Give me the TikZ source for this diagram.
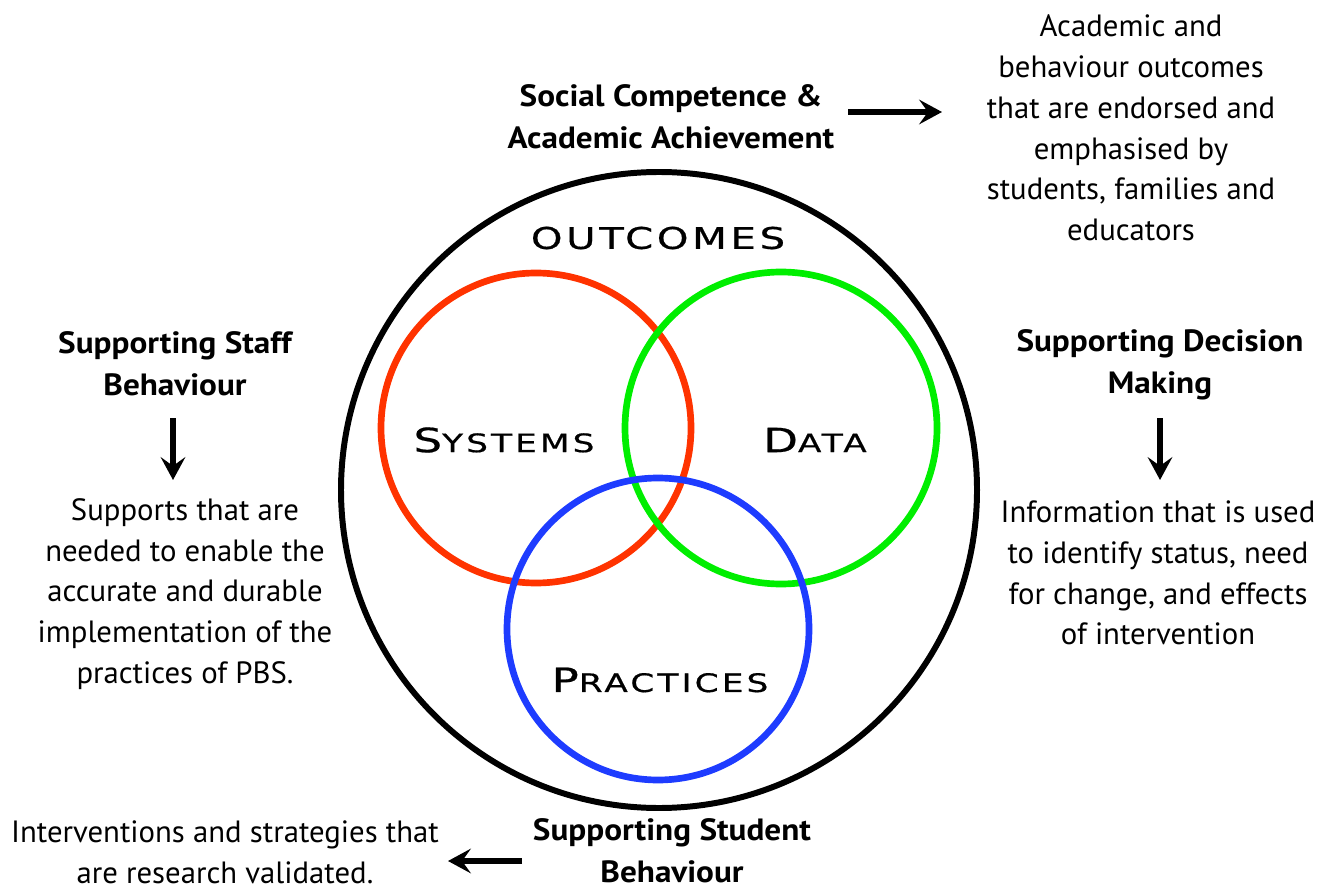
\documentclass[tikz,border=0pt]{standalone}
\usepackage{fontspec}
\setmainfont{PT Sans}
\newfontfamily\headfont[FakeStretch=1.08]{PT Sans}
\newfontfamily\capsfont[FakeStretch=1.35,LetterSpace=12,FakeBold=0.6]{DejaVu Sans}
\usetikzlibrary{arrows.meta}
\definecolor{sysred}{RGB}{255,51,0}
\definecolor{datagreen}{RGB}{0,238,0}
\definecolor{pracblue}{RGB}{30,60,255}
\newcommand{\smcap}[2]{{\fontsize{19}{19}\selectfont #1}{\fontsize{14.5}{14.5}\selectfont #2}}

\begin{document}
\begin{tikzpicture}[x=0.02cm,y=-0.02cm,
    body/.style={align=center,font=\fontsize{17.5}{23.2}\selectfont,inner sep=0pt},
    head/.style={align=center,font=\headfont\bfseries\fontsize{17.5}{23.8}\selectfont,inner sep=0pt},
    label/.style={font=\capsfont,inner sep=0pt},
    ring/.style={line width=3.8pt},
    arr/.style={-{Stealth[length=13pt,width=14pt,inset=5pt]},line width=2.9pt}]
    \useasboundingbox (0,0) rectangle (1334,891);

    % circles
    \draw[line width=3.4pt] (659,490) circle (318);
    \draw[ring,sysred] (536,428) circle (155);
    \draw[ring,datagreen] (781,428) circle (156);
    \draw[ring,pracblue] (658,629) circle (151);

    % labels in the circles
    \node[label,font=\capsfont\fontsize{17}{17}\selectfont] (outc) at (658,238) {OUTCOMES};
    \node[label] (sys) at (504,440) {\smcap{S}{YSTEMS}};
    \node[label] (dat) at (815,440) {\smcap{D}{ATA}};
    \node[label] (prac) at (660,680) {\smcap{P}{RACTICES}};

    % top
    \node[head] (social) at (671,117) {Social Competence \&\\Academic Achievement};
    \node[body] (endorse) at (1131,128) {Academic and\\behaviour outcomes\\that are endorsed and\\emphasised by\\students, families and\\educators};
    \coordinate (s1) at (848,112);
    \coordinate (s2) at (942,112);
    \draw[arr] (s1) -- (s2);

    % left
    \node[head] (staff) at (175,364) {Supporting Staff\\Behaviour};
    \node[body] (supports) at (185,594) {Supports that are\\needed to enable the\\accurate and durable\\implementation of the\\practices of PBS.};
    \coordinate (l1) at (173,418);
    \coordinate (l2) at (173,480);
    \draw[arr] (l1) -- (l2);

    % right
    \node[head] (decision) at (1160,365) {Supporting Decision\\Making};
    \node[body] (info) at (1158,573) {Information that is used\\to identify status, need\\for change, and effects\\of intervention};
    \coordinate (r1) at (1160,418);
    \coordinate (r2) at (1160,480);
    \draw[arr] (r1) -- (r2);

    % bottom
    \node[head] (student) at (672,851) {Supporting Student\\Behaviour};
    \node[body] (interv) at (225,852) {Interventions and strategies that\\are research validated.};
    \coordinate (b1) at (522,861);
    \coordinate (b2) at (448,861);
    \draw[arr] (b1) -- (b2);
\end{tikzpicture}
\end{document}
